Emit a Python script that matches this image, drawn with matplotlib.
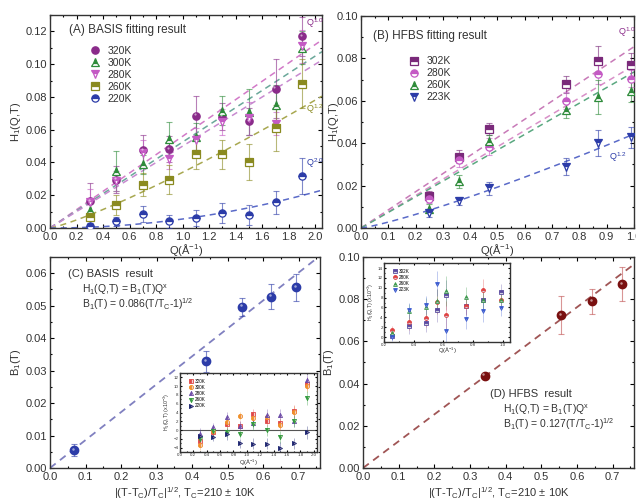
import matplotlib
matplotlib.use('Agg')
import matplotlib.pyplot as plt
import numpy as np
from matplotlib.ticker import MultipleLocator, AutoMinorLocator
from matplotlib.transforms import offset_copy

plt.rcParams['font.family'] = ['Liberation Sans', 'DejaVu Sans']
plt.rcParams['mathtext.fontset'] = 'custom'
plt.rcParams['mathtext.rm'] = 'Liberation Sans'
plt.rcParams['mathtext.it'] = 'Liberation Sans'

# ---- (A) BASIS fitting result ----
q_basis = [0.3, 0.5, 0.7, 0.9, 1.1, 1.3, 1.5, 1.7, 1.9]
h_320 = [0.0162, 0.0296, 0.0476, 0.0480, 0.0686, 0.0680, 0.0650, 0.0850, 0.1170]
e_320 = [0.011, 0.008, 0.009, 0.008, 0.012, 0.008, 0.008, 0.018, 0.012]
h_300 = [0.0110, 0.0347, 0.0388, 0.0546, 0.0558, 0.0717, 0.0706, 0.0750, 0.1100]
e_300 = [0.007, 0.012, 0.006, 0.010, 0.008, 0.009, 0.014, 0.012, 0.010]
h_280 = [0.0160, 0.0285, 0.0460, 0.0420, 0.0540, 0.0645, 0.0670, 0.0635, 0.1110]
e_280 = [0.008, 0.006, 0.008, 0.006, 0.007, 0.008, 0.010, 0.007, 0.010]
h_260 = [0.0066, 0.0140, 0.0265, 0.0296, 0.0450, 0.0450, 0.0405, 0.0610, 0.0880]
e_260 = [0.004, 0.006, 0.007, 0.009, 0.009, 0.009, 0.011, 0.014, 0.015]
h_220 = [0.0010, 0.0040, 0.0086, 0.0040, 0.0060, 0.0090, 0.0080, 0.0156, 0.0316]
e_220 = [0.002, 0.003, 0.005, 0.004, 0.005, 0.006, 0.006, 0.007, 0.011]
basis_labels = ['320K', '300K', '280K', '260K', '220K']
basis_amp = [0.056, 0.0525, 0.050, 0.034, 0.0055]
basis_exp = [1.0, 1.0, 1.0, 1.2, 2.0]

# ---- (B) HFBS fitting result ----
q_hfbs = [0.25, 0.36, 0.47, 0.75, 0.87, 0.99]
h_302 = [0.0153, 0.0337, 0.0467, 0.0677, 0.0790, 0.0767]
e_302 = [0.002, 0.003, 0.003, 0.004, 0.007, 0.006]
h_280b = [0.0139, 0.0320, 0.0384, 0.0600, 0.0728, 0.0704]
e_280b = [0.002, 0.003, 0.004, 0.004, 0.005, 0.004]
h_260b = [0.0092, 0.0220, 0.0410, 0.0557, 0.0617, 0.0645]
e_260b = [0.002, 0.003, 0.003, 0.004, 0.008, 0.005]
h_223 = [0.0071, 0.0127, 0.0187, 0.0288, 0.0400, 0.0427]
e_223 = [0.002, 0.002, 0.003, 0.004, 0.006, 0.005]
hfbs_labels = ['302K', '280K', '260K', '223K']
hfbs_amp = [0.0855, 0.0767, 0.0736, 0.0443]
hfbs_exp = [1.0, 1.0, 1.0, 1.2]

# ---- (C) BASIS result ----
x_c = [0.068, 0.44, 0.54, 0.622, 0.693]
b_c = [0.0056, 0.0329, 0.0497, 0.0528, 0.0556]
eb_c = [0.0018, 0.0032, 0.0028, 0.0038, 0.0042]
slope_c = 0.086

# inset C : residuals (x1e-3)
ins_c_320 = [-2.5, -0.5, 1.3, 1.0, 3.7, 2.1, 1.5, 4.4, 10.6]
ins_c_300 = [-3.3, -0.3, 1.9, 3.2, 2.8, 3.0, 1.2, 4.1, 10.1]
ins_c_280 = [-0.8, 0.6, 3.0, 1.0, 1.7, 3.5, 3.5, 2.0, 11.3]
ins_c_260 = [-2.0, -0.2, -0.4, -0.9, 1.3, -0.1, -1.6, 2.1, 7.3]
ins_c_220 = [-1.3, -1.5, -1.0, -3.0, -3.1, -3.1, -4.0, -3.0, -0.5]
ins_c_err = [1.2, 1.0, 1.2, 1.0, 1.2, 1.2, 1.3, 1.3, 1.5]

# ---- (D) HFBS result ----
x_d = [0.341, 0.555, 0.642, 0.727]
b_d = [0.0438, 0.0724, 0.0790, 0.0872]
eb_d = [0.001, 0.009, 0.006, 0.008]
slope_d = 0.127

# inset D (x1e-3)
q_ins_d = [0.25, 0.37, 0.48, 0.56, 0.62, 0.75, 0.87, 0.99]
ins_d_302 = [0.3, 2.3, 2.8, 5.5, 8.5, 6.4, 7.6, 9.1]
ins_d_280 = [1.4, 3.0, 3.8, 7.2, 4.4, 6.4, 9.5, 7.5]
ins_d_260 = [0.8, 5.2, 6.2, 7.3, 9.3, 8.2, 7.6, 7.5]
ins_d_223 = [0.1, 5.4, 6.5, 10.8, 1.2, 3.6, 5.2, 5.8]
ins_d_err = [0.8, 1.6, 1.8, 2.5, 3.0, 2.0, 2.2, 1.6]

TXT = '#333333'


def style_axes(ax, xmaj, ymaj, fs=8, length=3):
    ax.xaxis.set_major_locator(MultipleLocator(xmaj))
    ax.yaxis.set_major_locator(MultipleLocator(ymaj))
    ax.xaxis.set_minor_locator(AutoMinorLocator(2))
    ax.yaxis.set_minor_locator(AutoMinorLocator(2))
    ax.tick_params(which='both', direction='in', top=True, right=True,
                   labelsize=fs, width=0.8, pad=2, labelcolor=TXT)
    ax.tick_params(which='major', length=length)
    ax.tick_params(which='minor', length=length * 0.55)
    for s in ax.spines.values():
        s.set_linewidth(1.0)
        s.set_color('#333333')


def series(ax, x, y, err, color, marker, label, ms=5, half=True, ecolor=None):
    ax.errorbar(x, y, yerr=err, fmt='none', ecolor=ecolor or color, elinewidth=0.8,
                capsize=2, capthick=0.8, alpha=0.6, zorder=3)
    if half:
        ax.plot(x, y, ls='none', marker=marker, ms=ms, color=color, mec=color,
                fillstyle='top', markerfacecoloralt='white', mew=0.9, label=label, zorder=4)
    else:
        ax.plot(x, y, ls='none', marker=marker, ms=ms, color=color, mec=color,
                label=label, zorder=4)
        tr = offset_copy(ax.transData, fig=ax.figure, x=-0.9, y=0.9, units='points')
        ax.plot(x, y, ls='none', marker='o', ms=ms * 0.3, color='white', alpha=0.55,
                mew=0, transform=tr, zorder=5)


fig = plt.figure(figsize=(6.36, 5.03), dpi=100)

# ================= (A) =================
axA = fig.add_axes([0.0786, 0.5467, 0.4277, 0.4235])
a_cols = ['#8a2b8a', '#2e8b3a', '#c45ac4', '#8a8a20', '#2c3ca8']
a_line = ['#d27ac8', '#6aa89a', '#c88ad0', '#a8a850', '#5a6ac8']
a_mark = ['o', '^', 'v', 's', 'o']
a_data = [h_320, h_300, h_280, h_260, h_220]
a_err = [e_320, e_300, e_280, e_260, e_220]
qfit = np.linspace(0, 2.05, 100)
for amp, ex, lc in zip(basis_amp, basis_exp, a_line):
    axA.plot(qfit, amp * qfit ** ex, ls=(0, (4, 3)), color=lc, lw=1.1, zorder=2)
for i in range(5):
    series(axA, q_basis, a_data[i], a_err[i], a_cols[i], a_mark[i], basis_labels[i],
           ms=5.2, half=(i != 0))
axA.set_xlim(0, 2.05)
axA.set_ylim(0, 0.13)
style_axes(axA, 0.2, 0.02)
axA.tick_params(axis='x', pad=3)
axA.set_ylabel('H$_1$(Q,T)', fontsize=8, labelpad=2, color=TXT)
axA.set_xlabel('Q(Å$^{-1}$)', fontsize=8, labelpad=0, color=TXT)
axA.text(0.07, 0.915, '(A) BASIS fitting result', transform=axA.transAxes, fontsize=8.5,
         color=TXT)
axA.legend(loc='upper left', bbox_to_anchor=(0.13, 0.875), frameon=False, fontsize=7.5,
           handletextpad=0.7, labelspacing=0.2, borderaxespad=0, handlelength=1.0,
           labelcolor=TXT)
axA.text(1.93, 0.123, 'Q$^{1.0}$', color='#8a2b8a', fontsize=6.5)
axA.text(1.93, 0.071, 'Q$^{1.2}$', color='#8a8a20', fontsize=6.5)
axA.text(1.93, 0.038, 'Q$^{2.0}$', color='#2c3ca8', fontsize=6.5)

# ================= (B) =================
axB = fig.add_axes([0.5676, 0.5467, 0.4292, 0.4215])
b_cols = ['#7a2a7a', '#c45ac4', '#2e8b3a', '#2c3ca8']
b_line = ['#c87ab8', '#d890c8', '#5aa880', '#5a6ac8']
b_mark = ['s', 'o', '^', 'v']
b_data = [h_302, h_280b, h_260b, h_223]
b_err = [e_302, e_280b, e_260b, e_223]
qfit_b = np.linspace(0, 1.0, 100)
for amp, ex, lc in zip(hfbs_amp, hfbs_exp, b_line):
    axB.plot(qfit_b, amp * qfit_b ** ex, ls=(0, (4, 3)), color=lc, lw=1.1, zorder=2)
for i in range(4):
    series(axB, q_hfbs, b_data[i], b_err[i], b_cols[i], b_mark[i], hfbs_labels[i], ms=5.2)
axB.set_xlim(0, 1.0)
axB.set_ylim(0, 0.10)
style_axes(axB, 0.1, 0.02)
axB.tick_params(axis='x', pad=3)
axB.set_ylabel('H$_1$(Q,T)', fontsize=8, color=TXT)
axB.yaxis.set_label_coords(-0.075, 0.5)
axB.set_xlabel('Q(Å$^{-1}$)', fontsize=8, labelpad=0, color=TXT)
axB.text(0.045, 0.89, '(B) HFBS fitting result', transform=axB.transAxes, fontsize=8.5,
         color=TXT)
axB.legend(loc='upper left', bbox_to_anchor=(0.16, 0.83), frameon=False, fontsize=7.5,
           handletextpad=0.7, labelspacing=0.2, borderaxespad=0, handlelength=1.0,
           labelcolor=TXT)
axB.text(0.94, 0.091, 'Q$^{1.0}$', color='#8a2b8a', fontsize=6.5)
axB.text(0.91, 0.032, 'Q$^{1.2}$', color='#2c3ca8', fontsize=6.5)

# ================= (C) =================
axC = fig.add_axes([0.0786, 0.0696, 0.4245, 0.4195])
xl = np.linspace(0, 0.76, 50)
axC.plot(xl, slope_c * xl, ls=(0, (4, 3)), color='#8080c0', lw=1.3, zorder=2)
series(axC, x_c, b_c, eb_c, '#2c3ca8', 'o', None, ms=6, half=False)
axC.set_xlim(0, 0.76)
axC.set_ylim(0, 0.065)
style_axes(axC, 0.1, 0.01)
axC.tick_params(axis='x', pad=3)
axC.set_ylabel('B$_1$(T)', fontsize=8, labelpad=2, color=TXT)
axC.set_xlabel('|(T-T$_C$)/T$_C$|$^{1/2}$, T$_C$=210 ± 10K', fontsize=8, labelpad=2,
               color=TXT)
axC.text(0.067, 0.905, '(C) BASIS  result', transform=axC.transAxes, fontsize=8, color=TXT)
axC.text(0.12, 0.83, 'H$_1$(Q,T) = B$_1$(T)Q$^x$', transform=axC.transAxes, fontsize=7.5,
         color=TXT)
axC.text(0.12, 0.76, 'B$_1$(T) = 0.086(T/T$_C$-1)$^{1/2}$', transform=axC.transAxes,
         fontsize=7.5, color=TXT)

# inset C
inC = fig.add_axes([0.283, 0.1014, 0.2154, 0.157])
ic_cols = ['#e04848', '#f0902a', '#6a4aa8', '#2e9a3a', '#1c2470']
ic_mark = ['s', 'o', '^', 'v', '>']
ic_data = [ins_c_320, ins_c_300, ins_c_280, ins_c_260, ins_c_220]
inC.axhline(0, color='#555555', lw=0.8, zorder=1)
for i in range(5):
    inC.errorbar(q_basis, ic_data[i], yerr=ins_c_err, fmt='none', ecolor=ic_cols[i],
                 elinewidth=0.5, alpha=0.5, zorder=2)
    inC.plot(q_basis, ic_data[i], ls='none', marker=ic_mark[i], ms=3.0, color=ic_cols[i],
             mec=ic_cols[i], fillstyle='left', markerfacecoloralt='#f0d0d0', mew=0.6,
             label=basis_labels[i], zorder=3)
inC.set_xlim(0, 2.05)
inC.set_ylim(-5, 13)
style_axes(inC, 0.2, 2, fs=3.2, length=1.5)
inC.tick_params(pad=1)
inC.set_ylabel('H$_1$(Q,T) (x10$^{-3}$)', fontsize=3.8, labelpad=1, color=TXT)
inC.set_xlabel('Q(Å$^{-1}$)', fontsize=4.2, labelpad=0, color=TXT)
inC.legend(loc='upper left', bbox_to_anchor=(0.05, 0.95), frameon=False, fontsize=3.3,
           handletextpad=0.4, labelspacing=0.25, borderaxespad=0, handlelength=1)

# ================= (D) =================
axD = fig.add_axes([0.5708, 0.0696, 0.4261, 0.4195])
axD.plot(xl, slope_d * xl, ls=(0, (4, 3)), color='#a05555', lw=1.3, zorder=2)
series(axD, x_d, b_d, eb_d, '#7a1010', 'o', None, ms=6, half=False, ecolor='#c05050')
axD.set_xlim(0, 0.76)
axD.set_ylim(0, 0.10)
style_axes(axD, 0.1, 0.02)
axD.tick_params(axis='x', pad=3)
axD.set_ylabel('B$_1$(T)', fontsize=8, labelpad=2, color=TXT)
axD.set_xlabel('|(T-T$_C$)/T$_C$|$^{1/2}$, T$_C$=210 ± 10K', fontsize=8, labelpad=2,
               color=TXT)
axD.text(0.47, 0.336, '(D) HFBS  result', transform=axD.transAxes, fontsize=8, color=TXT)
axD.text(0.515, 0.262, 'H$_1$(Q,T) = B$_1$(T)Q$^x$', transform=axD.transAxes, fontsize=7.5,
         color=TXT)
axD.text(0.515, 0.19, 'B$_1$(T) = 0.127(T/T$_C$-1)$^{1/2}$', transform=axD.transAxes,
         fontsize=7.5, color=TXT)

# inset D
inD = fig.add_axes([0.604, 0.32, 0.198, 0.157])
id_cols = ['#5a4aa0', '#e04040', '#3a9a4a', '#3a5ad0']
id_mark = ['s', 'o', '^', 'v']
id_data = [ins_d_302, ins_d_280, ins_d_260, ins_d_223]
for i in range(4):
    inD.errorbar(q_ins_d, id_data[i], yerr=ins_d_err, fmt='none', ecolor=id_cols[i],
                 elinewidth=0.5, alpha=0.45, zorder=2)
    inD.plot(q_ins_d, id_data[i], ls='none', marker=id_mark[i], ms=2.8, color=id_cols[i],
             mec=id_cols[i], fillstyle='top', markerfacecoloralt='#d0d0e0', mew=0.6,
             label=hfbs_labels[i], zorder=3)
inD.set_xlim(0.2, 1.05)
inD.set_ylim(-1, 15)
style_axes(inD, 0.2, 2, fs=3.2, length=1.5)
inD.tick_params(pad=1)
inD.set_ylabel('H$_1$(Q,T) (x10$^{-3}$)', fontsize=3.8, labelpad=1, color=TXT)
inD.set_xlabel('Q(Å$^{-1}$)', fontsize=4.2, labelpad=-1, color=TXT)
inD.legend(loc='upper left', bbox_to_anchor=(0.05, 0.95), frameon=False, fontsize=3.3,
           handletextpad=0.4, labelspacing=0.25, borderaxespad=0, handlelength=1)

fig.savefig('out.png', dpi=100)
